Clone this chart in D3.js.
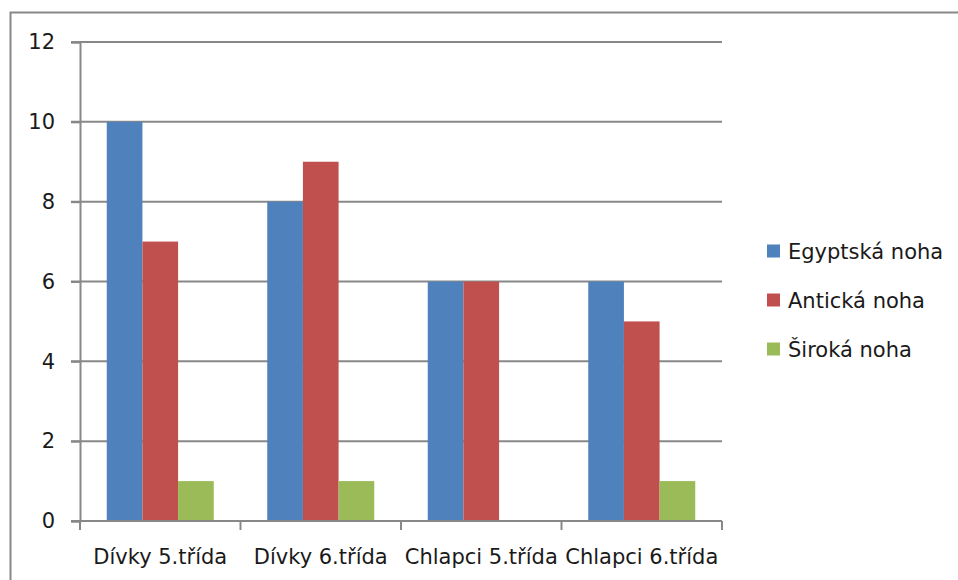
<!DOCTYPE html>
<html>
<head>
<meta charset="utf-8">
<script src="https://cdn.jsdelivr.net/npm/d3@7"></script>
<style>
  html, body { margin: 0; padding: 0; background: #fff; }
  svg text { font-family: "DejaVu Sans", sans-serif; fill: #1a1a1a; }
</style>
</head>
<body>
<svg id="chart" width="958" height="580"></svg>
<script>
// Foot types by class group
const categories = ["Dívky 5.třída", "Dívky 6.třída", "Chlapci 5.třída", "Chlapci 6.třída"];
const seriesNames = ["Egyptská noha", "Antická noha", "Široká noha"];
const egyptska = [10, 8, 6, 6];
const anticka = [7, 9, 6, 5];
const siroka = [1, 1, 0, 1];
const yTicks = [0, 2, 4, 6, 8, 10, 12];
const colors = ["#4F81BD", "#C0504D", "#9BBB59"];

const seriesValues = [egyptska, anticka, siroka];

const svg = d3.select("#chart");
const gridColor = "#888888";

// Chart frame
svg.append("rect")
  .attr("x", 10.5).attr("y", 12.5)
  .attr("width", 960).attr("height", 580)
  .attr("fill", "none").attr("stroke", gridColor).attr("stroke-width", 2);

const plot = { left: 80, right: 722, top: 42, bottom: 521 };

const x0 = d3.scaleBand()
  .domain(categories)
  .range([plot.left, plot.right])
  .paddingInner(0).paddingOuter(0);

const x1 = d3.scaleBand()
  .domain(seriesNames)
  .range([0, x0.bandwidth()])
  .paddingInner(0)
  .paddingOuter(0.75);

const y = d3.scaleLinear().domain([0, 12]).range([plot.bottom, plot.top]);

// Horizontal gridlines with tick marks
svg.append("g")
  .selectAll("line")
  .data(yTicks.filter(d => d !== 0))
  .join("line")
  .attr("x1", plot.left - 9).attr("x2", plot.right)
  .attr("y1", d => y(d)).attr("y2", d => y(d))
  .attr("stroke", gridColor).attr("stroke-width", 2);

// Bars
const groups = svg.append("g")
  .selectAll("g")
  .data(categories)
  .join("g")
  .attr("transform", c => `translate(${x0(c)},0)`);

groups.selectAll("rect")
  .data((c, i) => seriesNames.map((s, j) => ({ s, v: seriesValues[j][i], color: colors[j] })))
  .join("rect")
  .attr("x", d => x1(d.s))
  .attr("width", x1.bandwidth())
  .attr("y", d => y(d.v))
  .attr("height", d => y(0) - y(d.v))
  .attr("fill", d => d.color);

// Y axis
const yAxis = d3.axisLeft(y).tickValues(yTicks).tickSize(9).tickPadding(16);
const gy = svg.append("g")
  .attr("transform", `translate(${plot.left},0)`)
  .call(yAxis);
gy.select(".domain").attr("stroke", gridColor).attr("stroke-width", 2);
gy.selectAll(".tick line").attr("stroke", gridColor).attr("stroke-width", 2);
gy.selectAll(".tick text")
  .style("font-family", "DejaVu Sans, sans-serif")
  .style("font-size", "21px")
  .attr("fill", "#1a1a1a");

// X axis
const boundaries = categories.map(c => x0(c)).concat([plot.right]);
svg.append("line")
  .attr("x1", plot.left - 9).attr("x2", plot.right)
  .attr("y1", y(0)).attr("y2", y(0))
  .attr("stroke", gridColor).attr("stroke-width", 2);
svg.append("g")
  .selectAll("line")
  .data(boundaries)
  .join("line")
  .attr("x1", d => d).attr("x2", d => d)
  .attr("y1", y(0)).attr("y2", y(0) + 9)
  .attr("stroke", gridColor).attr("stroke-width", 2);
svg.append("g")
  .selectAll("text")
  .data(categories)
  .join("text")
  .attr("x", c => x0(c) + x0.bandwidth() / 2)
  .attr("y", y(0) + 43)
  .attr("text-anchor", "middle")
  .style("font-size", "21px")
  .text(c => c);

// Legend
const legend = svg.append("g")
  .selectAll("g")
  .data(seriesNames)
  .join("g")
  .attr("transform", (d, i) => `translate(767,${251 + i * 49})`);
legend.append("rect")
  .attr("x", 0).attr("y", -6.5)
  .attr("width", 13).attr("height", 13)
  .attr("fill", (d, i) => colors[i]);
legend.append("text")
  .attr("x", 21).attr("y", 0)
  .attr("dy", "0.36em")
  .style("font-size", "21px")
  .text(d => d);
</script>
</body>
</html>
